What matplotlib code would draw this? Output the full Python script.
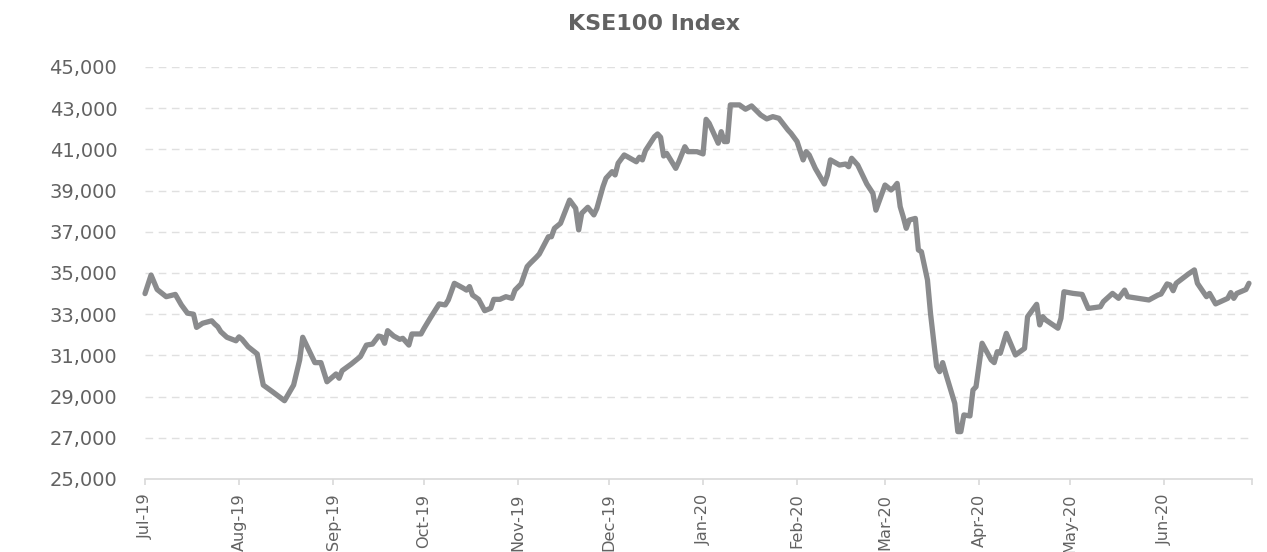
import matplotlib
matplotlib.use("Agg")
import matplotlib.pyplot as plt
import matplotlib.ticker as mticker
import pandas as pd

title = "KSE100 Index"
start_date = "2019-07-01"
end_date = "2020-06-30"

# trading days, counted from 1 Jul 2019
days_since_start = [
    0, 2, 4, 7, 10, 12, 14, 16, 17, 19, 22, 23, 24, 25, 27, 30, 31, 32, 34, 37,
    38, 39, 42, 46, 49, 51, 52, 54, 56, 58, 60, 63, 64, 65, 68, 71, 73, 75, 77, 78,
    79, 80, 82, 84, 85, 87, 88, 91, 92, 94, 97, 99, 100, 102, 105, 106, 107, 108, 110, 112,
    114, 115, 117, 119, 121, 122, 124, 126, 127, 129, 130, 133, 134, 135, 137, 140, 142, 143, 144, 146,
    148, 149, 151, 152, 154, 155, 156, 158, 159, 162, 163, 164, 165, 168, 169, 170, 171, 172, 175, 176,
    178, 179, 182, 184, 185, 186, 189, 190, 191, 192, 193, 196, 198, 200, 203, 205, 207, 209, 212, 213,
    215, 217, 218, 219, 221, 224, 225, 226, 229, 231, 232, 233, 235, 238, 240, 241, 244, 246, 247, 248,
    249, 250, 251, 252, 254, 255, 256, 258, 259, 261, 262, 263, 264, 267, 268, 269, 270, 272, 273, 274,
    276, 279, 280, 281, 282, 284, 287, 290, 291, 294, 295, 296, 297, 301, 302, 303, 306, 309, 311, 315,
    316, 319, 321, 323, 324, 331, 334, 335, 337, 338, 339, 340, 344, 346, 347, 350, 351, 353, 357, 358,
    359, 360, 363, 364,
]

kse100 = [
    34000, 34900, 34200, 33850, 33960, 33450, 33050, 33000, 32360, 32560, 32680, 32520, 32390, 32150, 31880, 31710, 31900, 31780, 31420, 31070,
    30290, 29560, 29240, 28800, 29560, 30780, 31880, 31260, 30650, 30650, 29720, 30100, 29890, 30260, 30580, 30940, 31500, 31550, 31940, 31900,
    31590, 32200, 31940, 31780, 31830, 31500, 32040, 32040, 32310, 32800, 33500, 33450, 33690, 34500, 34260, 34170, 34340, 33930, 33720, 33170,
    33290, 33720, 33720, 33850, 33770, 34170, 34470, 35310, 35470, 35760, 35920, 36760, 36760, 37170, 37410, 38540, 38140, 37090, 37900, 38190,
    37820, 38140, 39190, 39600, 39920, 39760, 40330, 40730, 40650, 40400, 40620, 40490, 40940, 41620, 41750, 41590, 40680, 40810, 40080, 40400,
    41130, 40890, 40890, 40780, 42460, 42270, 41300, 41860, 41380, 41380, 43160, 43160, 42950, 43110, 42670, 42480, 42590, 42510, 41940, 41780,
    41380, 40490, 40890, 40730, 40080, 39320, 39760, 40490, 40240, 40290, 40160, 40570, 40240, 39320, 38870, 38050, 39270, 39030, 39160, 39350,
    38220, 37730, 37170, 37570, 37650, 36120, 36030, 34660, 33040, 30470, 30210, 30650, 30130, 28670, 27300, 27300, 28110, 28060, 29320, 29480,
    31590, 30780, 30650, 31180, 31100, 32070, 31020, 31340, 32880, 33480, 32480, 32880, 32720, 32320, 32800, 34090, 34010, 33960, 33280, 33360,
    33610, 34010, 33770, 34170, 33850, 33690, 33930, 33980, 34470, 34420, 34140, 34500, 34950, 35150, 34500, 33850, 34010, 33500, 33770, 34050,
    33770, 34010, 34200, 34500,
]

y_ticks = [25000, 27000, 29000, 31000, 33000, 35000, 37000, 39000, 41000, 43000, 45000]

dates = pd.Timestamp(start_date) + pd.to_timedelta(days_since_start, unit="D")
x0 = pd.Timestamp(start_date)
x1 = pd.Timestamp(end_date)

W, H = 1267, 552
fig = plt.figure(figsize=(W / 100, H / 100), dpi=100)
fig.patch.set_facecolor("white")
ax = fig.add_axes([145 / W, 1 - 479 / H, (1252 - 145) / W, (479 - 67) / H])

txt = "#626262"
ax.plot(dates, kse100, color="#8a8b8d", lw=3.8, solid_joinstyle="round",
        solid_capstyle="round", zorder=3, clip_on=False)

ax.set_xlim(x0, x1)
ax.set_ylim(y_ticks[0], y_ticks[-1])
ax.set_yticks(y_ticks)
ax.yaxis.set_major_formatter(mticker.FuncFormatter(lambda v, p: f"{int(v):,}"))

month_ticks = list(pd.date_range(x0, x1, freq="MS"))
ax.set_xticks(month_ticks + [x1])
ax.set_xticklabels([d.strftime("%b-%y") for d in month_ticks] + [""])

for s in ["top", "right", "left"]:
    ax.spines[s].set_visible(False)
ax.spines["bottom"].set_color("#d9d9d9")
ax.spines["bottom"].set_linewidth(1.2)

ax.tick_params(axis="y", length=0, pad=20, labelsize=14, labelcolor=txt)
ax.tick_params(axis="x", length=4, width=1.2, color="#d9d9d9", pad=6.5,
               labelsize=11.6, labelcolor=txt, labelrotation=90)
for lab in ax.get_xticklabels():
    lab.set_verticalalignment("top")
    lab.set_horizontalalignment("center")

for v in y_ticks[1:]:
    ax.axhline(v, color="#e0e0e0", lw=1.0, ls=(0, (5.5, 4)), zorder=1)

fig.text(654 / W, 1 - 24 / H, title, ha="center", va="center",
         fontsize=16, fontweight="bold", color=txt)

fig.savefig("out.png", dpi=100, facecolor="white")
